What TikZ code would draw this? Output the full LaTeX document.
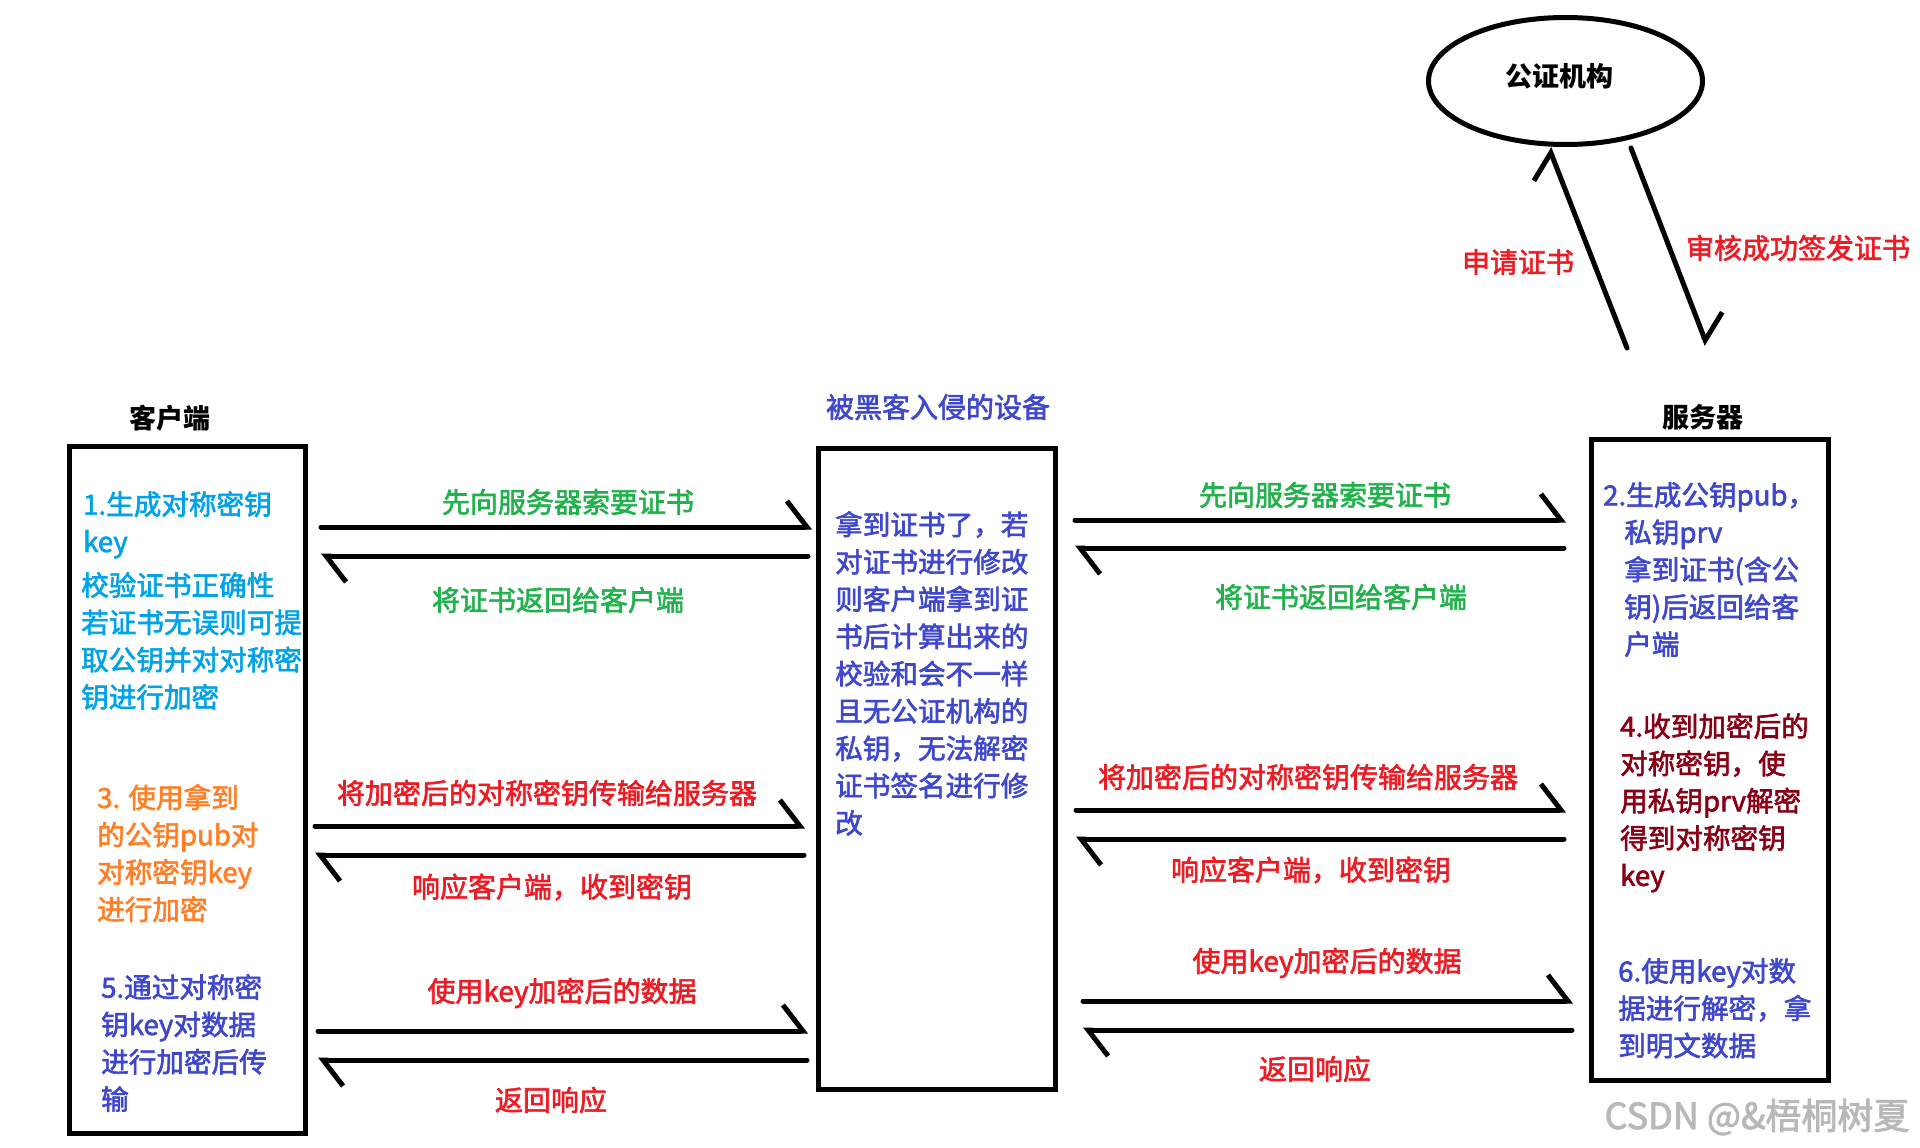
\documentclass[tikz,border=0pt]{standalone}
\usepackage{fontspec}
\setmainfont{Noto Sans CJK SC}[UprightFeatures={FakeBold=2.2}]
\usetikzlibrary{arrows.meta,shapes.geometric}
\definecolor{pblue}{HTML}{3F48CC}
\definecolor{lblue}{HTML}{00A2E8}
\definecolor{pgreen}{HTML}{22B14C}
\definecolor{pred}{HTML}{ED1C24}
\definecolor{porange}{HTML}{FF7F27}
\definecolor{dred}{HTML}{880015}
\begin{document}
\begin{tikzpicture}[x=1pt,y=-1pt,
  box/.style={draw, line width=5pt, inner sep=0pt},
  arr/.style={line width=5pt, line cap=round, -{Straight Barb[harpoon,length=20pt,width=52pt]}},
  lbl/.style={inner sep=0pt, font=\fontsize{28}{33}\selectfont},
  blk/.style={inner sep=0pt, anchor=north west, align=left, font=\fontsize{27.6}{37.3}\selectfont},
  ttl/.style={inner sep=0pt, font=\fontsize{27}{33}\selectfont\bfseries}]
\useasboundingbox[fill=white] (0,0) rectangle (1920,1148);

% boxes
\node[box, minimum width=236pt, minimum height=686.5pt] (client) at (187,789.75) {};
\node[box, minimum width=237pt, minimum height=641pt] (hack) at (936.5,768.5) {};
\node[box, minimum width=236.5pt, minimum height=641pt] (server) at (1710,760.3) {};
\node[draw, ellipse, line width=5pt, minimum width=274pt, minimum height=127pt, inner sep=0pt] (ca) at (1565.5,81) {};

% titles
\node[ttl] (tclient) at (170,418) {客户端};
\node[lbl, text=pblue] (thack) at (938,407) {被黑客入侵的设备};
\node[ttl] (tserver) at (1703,417) {服务器};
\node[ttl] (tca) at (1559,76) {公证机构};

% client texts (clipped by box)
\begin{scope}
\clip (71.5,449) rectangle (302.5,1130.5);
\node[blk, text=lblue] (c1) at (83,491) {1.生成对称密钥\\key};
\node[blk, text=lblue] (c2) at (81,572) {校验证书正确性\\若证书无误则可提\\取公钥并对对称密\\钥进行加密};
\node[blk, text=porange] (c3) at (97,784) {3. 使用拿到\\的公钥pub对\\对称密钥key\\进行加密};
\node[blk, text=pblue] (c5) at (101,974) {5.通过对称密\\钥key对数据\\进行加密后传\\输};
\end{scope}

% middle text
\node[blk, text=pblue] (m1) at (835,511) {拿到证书了，若\\对证书进行修改\\则客户端拿到证\\书后计算出来的\\校验和会不一样\\且无公证机构的\\私钥，无法解密\\证书签名进行修\\改};

% server texts
\node[blk, text=pblue] (s2) at (1603,482) {2.生成公钥pub，\\\hspace*{21pt}私钥prv\\\hspace*{21pt}拿到证书(含公\\\hspace*{21pt}钥)后返回给客\\\hspace*{21pt}户端};
\node[blk, text=dred] (s4) at (1620,713) {4.收到加密后的\\对称密钥，使\\用私钥prv解密\\得到对称密钥\\key};
\node[blk, text=pblue] (s6) at (1618,958) {6.使用key对数\\据进行解密，拿\\到明文数据};

% arrow end points
\coordinate (a1s) at (321,527);  \coordinate (a1e) at (812,527);
\coordinate (a2s) at (808,556);  \coordinate (a2e) at (321,556);
\coordinate (a3s) at (315,826);  \coordinate (a3e) at (805,826);
\coordinate (a4s) at (804,855);  \coordinate (a4e) at (315,855);
\coordinate (a5s) at (318,1031); \coordinate (a5e) at (808,1031);
\coordinate (a6s) at (807,1060); \coordinate (a6e) at (318,1060);
\coordinate (b1s) at (1075,520); \coordinate (b1e) at (1566,520);
\coordinate (b2s) at (1564,548); \coordinate (b2e) at (1075,548);
\coordinate (b3s) at (1076,810); \coordinate (b3e) at (1566,810);
\coordinate (b4s) at (1564,839); \coordinate (b4e) at (1076,839);
\coordinate (b5s) at (1083,1001);\coordinate (b5e) at (1573,1001);
\coordinate (b6s) at (1572,1030);\coordinate (b6e) at (1083,1030);
\coordinate (up1) at (1627,348); \coordinate (up2) at (1549,148);
\coordinate (dn1) at (1631,148); \coordinate (dn2) at (1707,345);

\draw[arr] (a1s) -- (a1e);
\draw[arr] (a2s) -- (a2e);
\draw[arr] (a3s) -- (a3e);
\draw[arr] (a4s) -- (a4e);
\draw[arr] (a5s) -- (a5e);
\draw[arr] (a6s) -- (a6e);
\draw[arr] (b1s) -- (b1e);
\draw[arr] (b2s) -- (b2e);
\draw[arr] (b3s) -- (b3e);
\draw[arr] (b4s) -- (b4e);
\draw[arr] (b5s) -- (b5e);
\draw[arr] (b6s) -- (b6e);
\draw[arr] (up1) -- (up2);
\draw[arr] (dn1) -- (dn2);

% labels
\node[lbl, text=pgreen] (l1) at (568,502) {先向服务器索要证书};
\node[lbl, text=pgreen] (l2) at (558,600) {将证书返回给客户端};
\node[lbl, text=pred] (l3) at (547,793) {将加密后的对称密钥传输给服务器};
\node[lbl, text=pred] (l4) at (552,887) {响应客户端，收到密钥};
\node[lbl, text=pred] (l5) at (562,993) {使用key加密后的数据};
\node[lbl, text=pred] (l6) at (551,1100) {返回响应};
\node[lbl, text=pgreen] (r1) at (1325,495) {先向服务器索要证书};
\node[lbl, text=pgreen] (r2) at (1341,597) {将证书返回给客户端};
\node[lbl, text=pred] (r3) at (1308,777) {将加密后的对称密钥传输给服务器};
\node[lbl, text=pred] (r4) at (1311,870) {响应客户端，收到密钥};
\node[lbl, text=pred] (r5) at (1327,963) {使用key加密后的数据};
\node[lbl, text=pred] (r6) at (1315,1069) {返回响应};
\node[lbl, text=pred] (q1) at (1518,262) {申请证书};
\node[lbl, text=pred] (q2) at (1798,248) {审核成功签发证书};

% watermark
\node[inner sep=0pt, text=black!28, font=\fontsize{36}{40}\selectfont] (wm) at (1757,1117) {CSDN @\&梧桐树夏};
\end{tikzpicture}
\end{document}
